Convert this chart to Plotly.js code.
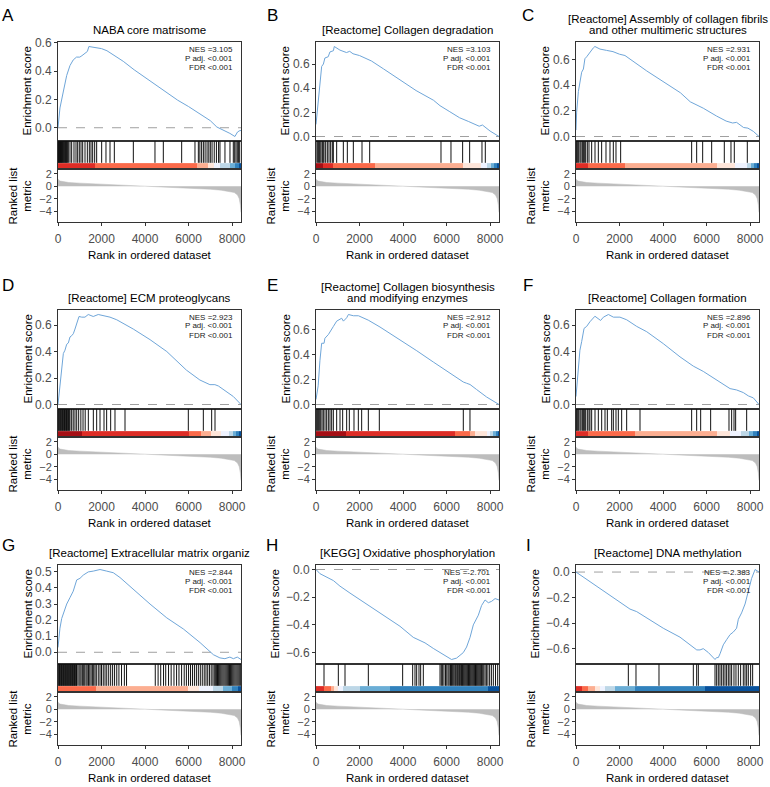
<!DOCTYPE html>
<html><head><meta charset="utf-8">
<script src="https://cdn.plot.ly/plotly-3.0.1.min.js"></script>
<style>html,body{margin:0;padding:0;background:#fff}</style>
</head><body><div id="chart" style="width:770px;height:787px"></div>
<script>
// ---------------- data ----------------
const nGenes = 8410;
const xTicks = [0, 2000, 4000, 6000, 8000];
const rankTicks = [-4, -2, 0, 2];

const panelLetters = ['A','B','C','D','E','F','G','H','I'];
const panelTitles = [
  ['NABA core matrisome'],
  ['[Reactome] Collagen degradation'],
  ['[Reactome] Assembly of collagen fibrils','and other multimeric structures'],
  ['[Reactome] ECM proteoglycans'],
  ['[Reactome] Collagen biosynthesis','and modifying enzymes'],
  ['[Reactome] Collagen formation'],
  ['[Reactome] Extracellular matrix organiz'],
  ['[KEGG] Oxidative phosphorylation'],
  ['[Reactome] DNA methylation']
];
const nesValues = ['3.105','3.103','2.931','2.923','2.912','2.896','2.844','-2.701','-2.383'];
const pAdjText = '<0.001';
const fdrText = '<0.001';

// ranked list metric (shared by all panels)
const metricRank = [0,30,100,250,500,1000,1500,2000,2500,3000,3500,4000,4300,4700,5200,5800,6400,7000,7500,7900,8100,8250,8330,8380,8410];
const metricVal  = [1.2,1.0,0.85,0.72,0.62,0.52,0.44,0.36,0.28,0.2,0.12,0.05,0,-0.05,-0.13,-0.22,-0.33,-0.47,-0.62,-0.82,-1.0,-1.4,-2.0,-3.0,-4.2];

// enrichment score curves
const esA_x = [0,90,250,400,550,700,850,1000,1100,1250,1350,1420,1600,1800,2000,2250,2500,2700,3000,3500,4000,4500,5000,5500,6000,6400,6700,7000,7300,7600,7900,8130,8250,8360,8410];
const esA_y = [0,0.14,0.26,0.37,0.44,0.48,0.50,0.50,0.51,0.53,0.54,0.575,0.57,0.565,0.56,0.545,0.52,0.50,0.47,0.41,0.355,0.30,0.25,0.195,0.15,0.11,0.08,0.05,0.005,-0.015,-0.04,-0.062,-0.03,-0.02,-0.02];
const esB_x = [0,100,180,260,340,410,560,640,800,840,1100,1400,1550,1700,2000,2300,2550,3100,3850,4600,5400,5700,6150,6600,7000,7500,7650,8000,8410];
const esB_y = [0.1,0.3,0.43,0.58,0.6,0.65,0.66,0.70,0.71,0.745,0.715,0.695,0.705,0.685,0.67,0.645,0.625,0.56,0.47,0.38,0.30,0.255,0.205,0.155,0.125,0.085,0.095,0.045,0.0];
const esC_x = [0,30,110,180,260,340,410,490,570,640,720,800,870,1100,1400,1700,2000,2250,3250,4000,4800,5250,5850,6450,6900,7200,7380,7700,7900,8150,8410];
const esC_y = [0.05,0.19,0.35,0.43,0.50,0.525,0.605,0.62,0.64,0.66,0.67,0.69,0.70,0.68,0.67,0.66,0.64,0.63,0.51,0.43,0.34,0.27,0.22,0.16,0.12,0.105,0.11,0.07,0.065,0.04,0.0];
const esD_x = [0,90,170,245,320,400,475,550,630,705,780,860,965,1090,1240,1390,1620,1850,2080,2390,2700,3460,4230,5000,5900,6520,6980,7210,7370,7750,8060,8410];
const esD_y = [0,0.16,0.285,0.385,0.41,0.455,0.465,0.51,0.52,0.535,0.57,0.61,0.665,0.66,0.66,0.68,0.665,0.68,0.67,0.66,0.64,0.57,0.49,0.40,0.26,0.185,0.15,0.15,0.14,0.095,0.06,0.0];
const esE_x = [0,100,180,260,370,410,570,720,800,950,1180,1260,1410,1490,1720,1950,2180,2400,2940,3860,4630,5390,6160,6770,6920,7080,7380,7840,8410];
const esE_y = [0.04,0.15,0.35,0.49,0.49,0.53,0.56,0.61,0.625,0.667,0.69,0.667,0.694,0.72,0.71,0.71,0.695,0.675,0.62,0.52,0.43,0.34,0.25,0.18,0.17,0.16,0.12,0.06,0.0];
const esF_x = [0,80,180,260,370,490,640,870,1030,1130,1260,1490,1720,2020,2330,2790,3250,4010,4780,5390,5850,6310,6770,7080,7380,7690,7920,8150,8410];
const esF_y = [0.06,0.24,0.41,0.475,0.575,0.59,0.625,0.667,0.65,0.635,0.66,0.68,0.66,0.66,0.64,0.59,0.55,0.46,0.36,0.29,0.25,0.20,0.15,0.12,0.11,0.09,0.065,0.05,0.0];
const esG_x = [0,90,170,250,400,550,700,860,1010,1160,1390,1620,1930,2240,2540,2850,3460,4230,5000,5760,6530,6830,7140,7440,7670,7900,8060,8240,8410];
const esG_y = [0.03,0.15,0.21,0.24,0.30,0.34,0.38,0.45,0.46,0.48,0.50,0.505,0.515,0.505,0.495,0.465,0.39,0.30,0.214,0.145,0.06,0.02,-0.015,-0.035,-0.04,-0.03,-0.04,-0.03,-0.045];
const esH_x = [0,180,800,1100,1560,2330,3090,3860,4470,4780,5010,5390,5700,6000,6230,6460,6770,6920,7080,7230,7460,7610,7770,7920,8070,8230,8410];
const esH_y = [0,-0.03,-0.08,-0.12,-0.17,-0.25,-0.33,-0.41,-0.49,-0.51,-0.53,-0.57,-0.60,-0.63,-0.65,-0.64,-0.60,-0.56,-0.49,-0.40,-0.33,-0.26,-0.22,-0.24,-0.23,-0.21,-0.22];
const esI_x = [0,950,1720,2330,2480,2790,3250,3780,4010,4780,5390,5550,5700,5850,6080,6310,6390,6460,6540,6620,6770,6920,7080,7230,7380,7460,7610,7770,7920,8070,8230,8300,8410];
const esI_y = [0,-0.11,-0.2,-0.27,-0.29,-0.31,-0.36,-0.42,-0.44,-0.51,-0.59,-0.61,-0.61,-0.60,-0.63,-0.67,-0.685,-0.67,-0.67,-0.64,-0.57,-0.53,-0.49,-0.47,-0.44,-0.37,-0.32,-0.25,-0.16,-0.05,0.02,0.01,0.0];

// gene set hit positions
const hitsA = [5,25,45,70,90,115,140,160,185,210,240,265,290,320,350,375,400,430,475,551,628,735,827,904,980,1057,1134,1241,1348,1440,1516,1593,1685,1777,2007,2205,2390,2589,3462,4457,4840,5683,6295,6450,6520,6600,6680,6760,6850,6930,7000,7080,7180,7280,7380,7444,7673,7903,8056,8120,8180,8240,8300,8350];
const hitsB = [0,60,107,150,184,230,291,330,368,444,521,597,674,750,797,950,1256,1440,1716,2114,2467,5744,6203,6739,7061,7628,7781];
const hitsC = [0,31,77,123,184,230,291,337,383,444,521,597,720,873,1026,1179,1378,1562,1715,1838,2052,5315,5545,5821,6235,6816,7122,7275,7873];
const hitsD = [0,30,60,90,120,150,180,210,240,270,300,330,360,390,420,450,480,520,551,628,700,780,860,950,1050,1150,1250,1394,1624,1777,1930,2114,2236,2420,2619,3079,5989,6679,7062,7215];
const hitsE = [15,61,107,153,215,276,337,414,490,567,643,720,797,950,1103,1225,1409,1532,1746,1946,2099,2405,2910,6770,7076];
const hitsF = [0,31,77,123,184,230,291,337,383,444,521,597,640,720,873,1026,1180,1333,1440,1639,1716,1838,1946,2099,2328,2941,5315,5545,5729,6188,7031,7153,7261,7337,7843];
const hitsG = [10,40,70,100,130,160,190,220,250,280,310,340,370,400,430,460,490,520,550,580,610,640,670,700,730,760,790,820,850,880,960,1010,1060,1120,1180,1230,1290,1340,1400,1460,1520,1580,1640,1700,1760,1850,1930,2000,2080,2160,2240,2330,2420,2510,2600,2700,2800,2920,3050,3150,4470,4600,4720,4850,4950,5080,5200,5330,5450,5560,5680,5800,5900,6000,6090,6180,6270,6360,6450,6540,6630,6720,6800,6880,6960,7040,7120,7180,7230,7280,7330,7380,7430,7480,7530,7580,7630,7680,7730,7780,7830,7880,7930,7980,8030,8080,8130,8180,8230,8280,8330,8380];
const hitsH = [368,1026,1333,2405,3982,4442,4549,4626,4733,4810,4932,5700,5760,5820,5880,5950,6010,6070,6120,6180,6230,6280,6330,6380,6420,6470,6510,6560,6600,6650,6690,6730,6770,6810,6850,6890,6930,6970,7010,7050,7090,7130,7170,7210,7250,7290,7330,7370,7410,7450,7490,7530,7570,7610,7660,7710,7770,7830,7900,7980,8060,8150,8250,8350];
const hitsI = [2405,2757,3814,5392,5545,5622,6388,6464,6540,6617,6694,6770,6847,6923,7000,7076,7153,7260,7352,7459,7566,7689,7766,7843,7919,8026,8118];

// colour bar: segment edges and palette index (1 = dark blue ... 10 = dark red)
const barA_edges = [0,1700,6400,6900,7150,7450,7900,8150,8300,8410];
const barA_idx   = [9,8,7,6,5,4,3,2,1];
const barB_edges = [0,300,800,2700,6750,7600,7850,8050,8200,8320,8410];
const barB_idx   = [10,9,8,7,6,5,4,3,2,1];
const barC_edges = [0,570,2250,6470,7300,7850,8050,8200,8320,8410];
const barC_idx   = [9,8,7,6,5,4,3,2,1];
const barD_edges = [0,1100,6000,6550,7050,7500,7850,8050,8200,8320,8410];
const barD_idx   = [10,9,8,7,6,5,4,3,2,1];
const barE_edges = [0,1400,6380,7076,7300,7840,8000,8150,8280,8350,8410];
const barE_idx   = [10,9,8,7,6,5,4,3,2,1];
const barF_edges = [0,570,2710,6463,7076,7600,7950,8150,8300,8410];
const barF_idx   = [9,8,7,6,5,4,3,2,1];
const barG_edges = [0,1740,5990,6500,7138,7600,8000,8250,8410];
const barG_idx   = [8,7,6,5,4,3,2,1];
const barH_edges = [0,368,674,843,1026,1256,2022,3400,7920,8410];
const barH_idx   = [9,8,7,6,5,4,3,2,1];
const barI_edges = [0,260,567,873,1103,1333,1792,2711,5928,8410];
const barI_idx   = [9,8,7,6,5,4,3,2,1];

const palette = ['#08519C','#3182BD','#6BAED6','#BDD7E7','#EFF3FF','#FEE5D9','#FCAE91','#FB6A4A','#DE2D26','#A50F15'];

// ---------------- layout helpers ----------------
const FW = 770, FH = 787;
const colLeft = [58, 316, 576], boxW = 183;
const rowTop = [42, 310, 565];
const hES = 99, hHit = 28, hRank = 53;
const letterX = [8, 272, 528], letterY = [15, 285, 545];
const px = v => v / FW;
const py = v => 1 - v / FH;

const esX = [esA_x,esB_x,esC_x,esD_x,esE_x,esF_x,esG_x,esH_x,esI_x];
const esY = [esA_y,esB_y,esC_y,esD_y,esE_y,esF_y,esG_y,esH_y,esI_y];
const hitsAll = [hitsA,hitsB,hitsC,hitsD,hitsE,hitsF,hitsG,hitsH,hitsI];
const barEdges = [barA_edges,barB_edges,barC_edges,barD_edges,barE_edges,barF_edges,barG_edges,barH_edges,barI_edges];
const barIdx = [barA_idx,barB_idx,barC_idx,barD_idx,barE_idx,barF_idx,barG_idx,barH_idx,barI_idx];

const colorscale = [];
palette.forEach((c, i) => { colorscale.push([i / 10, c]); colorscale.push([(i + 1) / 10, c]); });

const FONT = 'Liberation Sans, Arial, Helvetica, sans-serif';
const frame = {showline: true, mirror: true, linecolor: '#333', linewidth: 1, showgrid: false, zeroline: false, fixedrange: true};
const tickStyle = {ticks: 'outside', ticklen: 3, tickwidth: 1, tickcolor: '#333', tickfont: {size: 12, color: '#4d4d4d', family: FONT}};
const fmtTick = v => (v < -1e-9 ? '\u2212' : '') + Math.abs(v).toFixed(1);

const traces = [], shapes = [], annotations = [];
const layout = {
  width: FW, height: FH, margin: {l: 0, r: 0, t: 0, b: 0},
  paper_bgcolor: '#fff', plot_bgcolor: '#fff', showlegend: false,
  font: {family: FONT, color: '#000'}
};
const sfx = n => (n === 1 ? '' : String(n));

for (let p = 0; p < 9; p++) {
  const r = Math.floor(p / 3), c = p % 3;
  const L = colLeft[c], T = rowTop[r];
  const nE = p * 3 + 1, nH = p * 3 + 2, nR = p * 3 + 3;
  const xd = [px(L), px(L + boxW)];
  const tE = T, bE = T + hES, bH = bE + hHit, bR = bH + hRank;

  // y range of ES with 5% expansion (ggplot default)
  const ys = esY[p];
  const lo = Math.min(0, Math.min(...ys)), hi = Math.max(0, Math.max(...ys));
  const pad = (hi - lo) * 0.05;
  const dt = (hi - lo) < 0.6 ? 0.1 : 0.2;
  const tv = [];
  for (let k = Math.ceil((lo - pad) / dt - 1e-6); k * dt <= hi + pad + 1e-9; k++) tv.push(Math.round(k * dt * 10) / 10);
  const negative = tv.some(v => v < 0);

  layout['xaxis' + sfx(nE)] = Object.assign({}, frame, {domain: xd, anchor: 'y' + sfx(nE), range: [0, nGenes], showticklabels: false, ticks: ''});
  layout['yaxis' + sfx(nE)] = Object.assign({}, frame, tickStyle, {domain: [py(bE), py(tE)], anchor: 'x' + sfx(nE), range: [lo - pad, hi + pad],
    tickvals: tv, ticktext: tv.map(fmtTick)});
  layout['xaxis' + sfx(nH)] = Object.assign({}, frame, {domain: xd, anchor: 'y' + sfx(nH), range: [0, nGenes], showticklabels: false, ticks: ''});
  layout['yaxis' + sfx(nH)] = Object.assign({}, frame, {domain: [py(bH), py(bE)], anchor: 'x' + sfx(nH), range: [0, 1], showticklabels: false, ticks: ''});
  layout['xaxis' + sfx(nR)] = Object.assign({}, frame, tickStyle, {domain: xd, anchor: 'y' + sfx(nR), range: [0, nGenes], tickvals: xTicks,
    ticktext: xTicks.map(String), ticklabelstandoff: 3});
  layout['yaxis' + sfx(nR)] = Object.assign({}, frame, tickStyle, {domain: [py(bR), py(bH)], anchor: 'x' + sfx(nR), range: [-5.75, 2.8], tickvals: rankTicks,
    ticktext: rankTicks.map(v => (v < 0 ? '\u2212' : '') + Math.abs(v)), tickfont: {size: 11, color: '#4d4d4d', family: FONT}});

  // zero reference line
  shapes.push({type: 'line', layer: 'below', xref: 'x' + sfx(nE) + ' domain', x0: 0, x1: 1, yref: 'y' + sfx(nE), y0: 0, y1: 0,
               line: {color: '#a0a0a0', width: 1, dash: 'dash'}});

  // ES curve
  traces.push({type: 'scatter', mode: 'lines', x: esX[p], y: ys, xaxis: 'x' + sfx(nE), yaxis: 'y' + sfx(nE),
               line: {color: '#6fa6d9', width: 1}, hoverinfo: 'skip'});

  // hits
  const hx = [], hy = [];
  hitsAll[p].forEach(h => { hx.push(h, h, null); hy.push(0.22, 1, null); });
  traces.push({type: 'scatter', mode: 'lines', x: hx, y: hy, xaxis: 'x' + sfx(nH), yaxis: 'y' + sfx(nH),
               line: {color: '#111', width: 1}, hoverinfo: 'skip'});

  // colour bar
  traces.push({type: 'heatmap', x: barEdges[p], y: [0, 0.21], z: [barIdx[p]], xaxis: 'x' + sfx(nH), yaxis: 'y' + sfx(nH),
               colorscale: colorscale, zmin: 0.5, zmax: 10.5, showscale: false, zsmooth: false, hoverinfo: 'skip'});

  // ranked list metric
  traces.push({type: 'scatter', mode: 'lines', x: metricRank, y: metricVal, xaxis: 'x' + sfx(nR), yaxis: 'y' + sfx(nR),
               fill: 'tozeroy', fillcolor: '#bdbdbd', line: {color: '#bdbdbd', width: 0.5}, hoverinfo: 'skip'});

  // texts
  annotations.push({xref: 'paper', yref: 'paper', x: px(letterX[c]), y: py(letterY[r]), text: panelLetters[p], showarrow: false,
                    xanchor: 'center', yanchor: 'middle', font: {size: 17, family: FONT, color: '#000'}});
  const lines = panelTitles[p];
  lines.forEach((t, i) => {
    annotations.push({xref: 'paper', yref: 'paper', x: px(L + boxW / 2), y: py(T - 12 - (lines.length - 1 - i) * 11.5), text: t,
                      showarrow: false, xanchor: 'center', yanchor: 'middle', font: {size: 11.5, family: FONT, color: '#000'}});
  });
  const stats = ['NES =' + nesValues[p], 'P adj. ' + pAdjText, 'FDR ' + fdrText];
  stats.forEach((t, i) => {
    annotations.push({xref: 'paper', yref: 'paper', x: px(L + boxW - 6), y: py(T + 7 + i * 9), text: t.replace(/</g, '&lt;'),
                      showarrow: false, xanchor: 'right', yanchor: 'middle', font: {size: 8, family: FONT, color: '#222'}});
  });
  annotations.push({xref: 'paper', yref: 'paper', x: px(L - (negative ? 42 : 31)), y: py((tE + bE) / 2), text: 'Enrichment score', textangle: -90,
                    showarrow: false, xanchor: 'center', yanchor: 'middle', font: {size: 11.5, family: FONT, color: '#000'}});
  annotations.push({xref: 'paper', yref: 'paper', x: px(L - 38), y: py((bH + bR) / 2), text: 'Ranked list<br>metric', textangle: -90,
                    showarrow: false, xanchor: 'center', yanchor: 'middle', font: {size: 11.5, family: FONT, color: '#000'}});
  annotations.push({xref: 'paper', yref: 'paper', x: px(L + boxW / 2), y: py(bR + 33), text: 'Rank in ordered dataset',
                    showarrow: false, xanchor: 'center', yanchor: 'middle', font: {size: 11.5, family: FONT, color: '#000'}});
}
layout.shapes = shapes;
layout.annotations = annotations;

Plotly.newPlot('chart', traces, layout, {staticPlot: true, displayModeBar: false});
</script></body></html>
